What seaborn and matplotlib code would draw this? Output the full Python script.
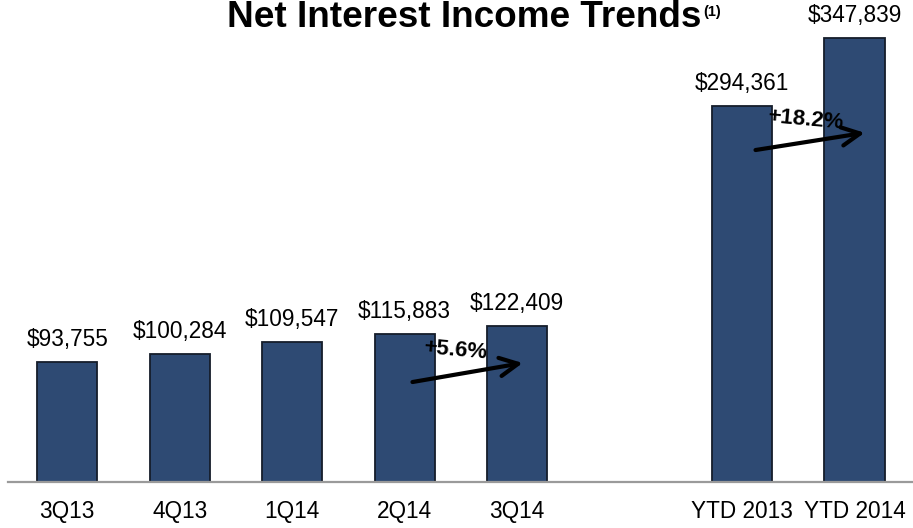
import matplotlib
matplotlib.use("Agg")
import matplotlib.pyplot as plt
import seaborn as sns
import pandas as pd

# Net interest income, $ thousands
periods = ["3Q13", "4Q13", "1Q14", "2Q14", "3Q14", "YTD 2013", "YTD 2014"]
income = [93755, 100284, 109547, 115883, 122409, 294361, 347839]
growth_labels = ["+5.6%", "+18.2%"]

sns.set_theme(style="white")
plt.rcParams["font.family"] = ["Liberation Sans", "DejaVu Sans"]
plt.rcParams["text.color"] = "black"

df = pd.DataFrame({"period": periods, "income": income})
# blank slot separates the quarterly bars from the year-to-date bars
order = periods[:5] + [" "] + periods[5:]

fig = plt.figure(figsize=(9.13, 5.28), dpi=100)
ax = fig.add_axes([0.009, 0.0871, 0.991, 0.9129])

bar_color = "#2E4A73"
sns.barplot(data=df, x="period", y="income", order=order, color=bar_color,
            width=0.535, edgecolor="#151d2a", linewidth=1.3, saturation=1,
            ax=ax)

ax.set_xlim(-0.524, 7.52)
ax.set_ylim(0, 377500)
ax.set_xlabel("")
ax.set_ylabel("")
ax.set_yticks([])
for s in ["top", "right", "left"]:
    ax.spines[s].set_visible(False)
ax.spines["bottom"].set_color("#9a9a9a")
ax.spines["bottom"].set_linewidth(1.6)
ax.tick_params(axis="x", length=0, pad=13, labelsize=16.3, labelcolor="black")

# value labels above bars
bars = [p for p in ax.patches if p.get_height() > 0]
for patch, val in zip(bars, income):
    x = patch.get_x() + patch.get_width() / 2
    ax.annotate(f"${val:,}", (x, patch.get_height()), xytext=(0, 8),
                textcoords="offset points", ha="center", va="bottom",
                fontsize=16.3, color="black")

# growth arrows
def growth_arrow(x0, y0, x1, y1, text, tx, ty):
    ax.annotate("", xy=(x1, y1), xytext=(x0, y0),
                arrowprops=dict(arrowstyle="->,head_length=1.1,head_width=0.55",
                                lw=3.0, color="black",
                                shrinkA=0, shrinkB=0))
    ax.text(tx, ty, text, ha="center", va="center", fontsize=16,
            fontweight="bold", rotation=-5, color="black")

growth_arrow(3.07, 78300, 4.05, 93200, growth_labels[0], 3.45, 103500)
growth_arrow(6.12, 260000, 7.09, 273500, growth_labels[1], 6.56, 284000)

# title with superscript note marker
fig.canvas.draw()
title = fig.text(227 / 913, 1 - 27 / 528, "Net Interest Income Trends",
                 ha="left", va="baseline", fontsize=26.6, fontweight="bold",
                 color="black")
renderer = fig.canvas.get_renderer()
bb = title.get_window_extent(renderer)
fig.text(bb.x1 / fig.bbox.width + 0.002, 1 - 16 / 528, "(1)", ha="left",
         va="baseline", fontsize=10.5, fontweight="bold", color="black")

fig.savefig("out.png", dpi=100)
